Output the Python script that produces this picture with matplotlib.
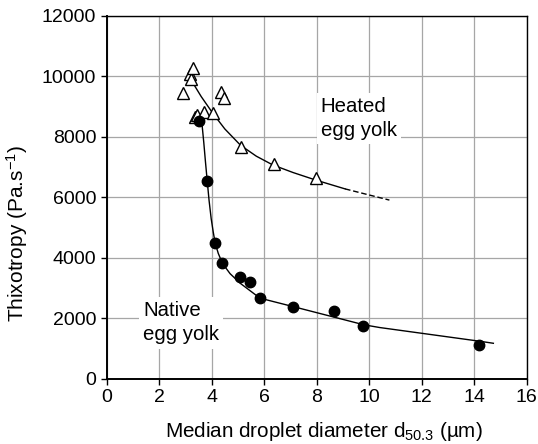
import matplotlib
matplotlib.use("Agg")
import matplotlib.pyplot as plt

plt.rcParams['font.family'] = ['Liberation Sans', 'DejaVu Sans']
plt.rcParams['mathtext.fontset'] = 'custom'
plt.rcParams['mathtext.rm'] = 'Liberation Sans'
plt.rcParams['mathtext.it'] = 'Liberation Sans:italic'
plt.rcParams['mathtext.sf'] = 'Liberation Sans'

# heated egg yolk (open triangles)
heated_x = [2.92, 3.16, 3.21, 3.27, 3.37, 3.43, 3.69, 4.04, 4.36, 4.45, 5.13, 6.36, 7.97]
heated_y = [9460, 10070, 9900, 10260, 8660, 8720, 8830, 8780, 9490, 9270, 7670, 7100, 6650]

# native egg yolk (filled circles)
native_x = [3.53, 3.82, 4.13, 4.38, 5.08, 5.45, 5.84, 7.11, 8.66, 9.77, 14.17]
native_y = [8530, 6540, 4490, 3830, 3360, 3215, 2665, 2390, 2256, 1750, 1123]

# trend curves
heated_fit_x = [3.2, 3.6, 4.04, 4.5, 5.1, 5.7, 6.33, 7.1, 7.97, 9.08]
heated_fit_y = [9900, 9330, 8780, 8260, 7720, 7360, 7070, 6820, 6570, 6280]
heated_ext_x = [9.08, 9.9, 10.77]
heated_ext_y = [6280, 6100, 5910]

native_fit_x = [3.60, 3.65, 3.70, 3.76, 3.83, 3.90, 3.98, 4.06, 4.13, 4.25, 4.41, 4.70, 5.09,
                5.84, 7.11, 8.5, 9.8, 10.4, 12.0, 14.23, 14.73]
native_fit_y = [8640, 8250, 7800, 7200, 6540, 5900, 5300, 4850, 4500, 4150, 3820, 3480, 3160,
                2670, 2390, 2080, 1790, 1700, 1510, 1245, 1180]

fig = plt.figure(figsize=(5.38, 4.44), dpi=100)
ax = fig.add_axes([0.1983, 0.1464, 0.7807, 0.8182])

ax.grid(True, color='#a6a6a6', linewidth=0.9)
ax.set_axisbelow(True)

ax.plot(heated_fit_x, heated_fit_y, color='black', linewidth=1.0, zorder=3)
ax.plot(heated_ext_x, heated_ext_y, color='black', linewidth=1.0, linestyle=(0, (4, 2)), zorder=3)
ax.plot(native_fit_x, native_fit_y, color='black', linewidth=1.0, zorder=3)

ax.plot(heated_x, heated_y, linestyle='none', marker='^', markersize=8.5,
        markerfacecolor='white', markeredgecolor='black', markeredgewidth=1.0, zorder=4)
ax.plot(native_x, native_y, linestyle='none', marker='o', markersize=7.5,
        markerfacecolor='black', markeredgecolor='black', zorder=4)

ax.text(8.15, 9320, 'Heated\negg yolk', fontsize=14.7, ha='left', va='top', linespacing=1.35,
        bbox=dict(facecolor='white', edgecolor='none', pad=3), zorder=2)
ax.text(1.39, 2570, 'Native\negg yolk', fontsize=14.7, ha='left', va='top', linespacing=1.35,
        bbox=dict(facecolor='white', edgecolor='none', pad=3), zorder=2)

ax.set_xlim(0, 16)
ax.set_ylim(0, 12000)
ax.set_xticks(range(0, 17, 2))
ax.set_yticks(range(0, 12001, 2000))
ax.tick_params(axis='both', labelsize=14, direction='out', length=4.5, width=1.0, pad=3)

for side in ['left', 'bottom']:
    ax.spines[side].set_linewidth(1.4)
for side in ['top', 'right']:
    ax.spines[side].set_linewidth(1.0)

ax.set_xlabel('Median droplet diameter d$_{50.3}$ (µm)', fontsize=14.9)
ax.set_ylabel('Thixotropy (Pa.s$^{-1}$)', fontsize=15)
ax.xaxis.set_label_coords(0.517, -0.112)
ax.yaxis.set_label_coords(-0.183, 0.40)

fig.savefig('out.png', dpi=100)
